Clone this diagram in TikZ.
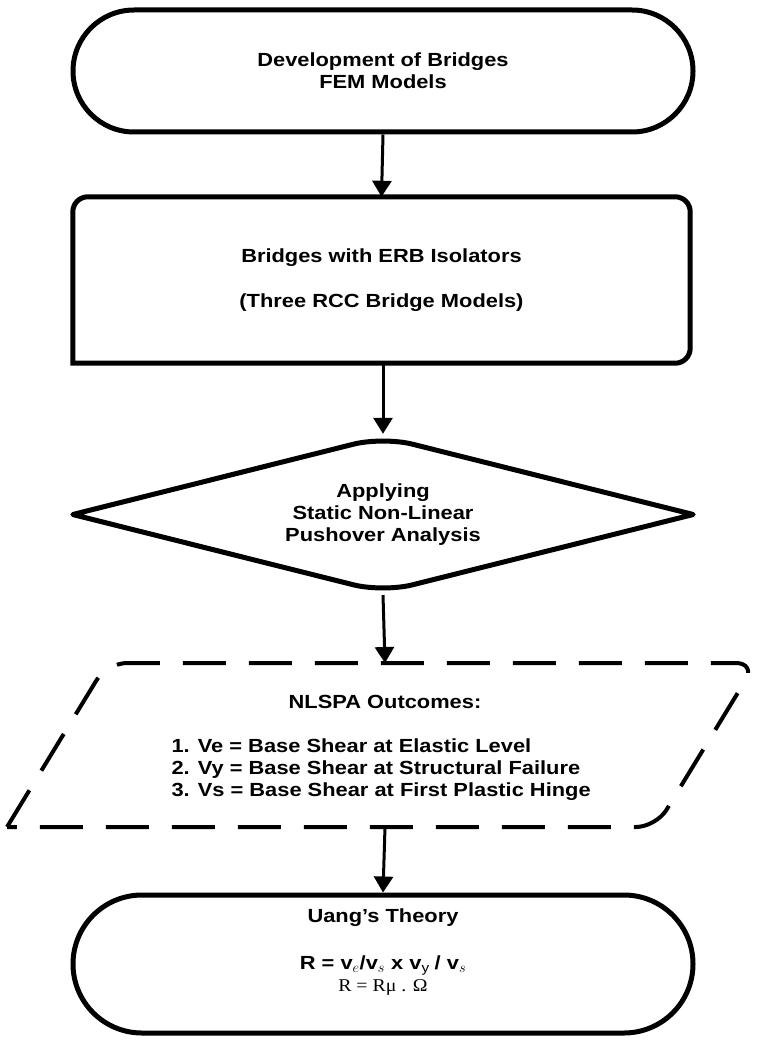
\documentclass[tikz,border=0pt]{standalone}
\usepackage{fontspec}
\setmainfont{Liberation Sans}[FakeStretch=1.15]
\newfontfamily\eqfont{Liberation Serif}[FakeStretch=1.1]
\usetikzlibrary{arrows.meta,shapes.geometric}

\begin{document}
\begin{tikzpicture}[x=1pt, y=-1pt,
  every node/.style={font=\fontsize{19}{22}\selectfont\bfseries, align=center},
  term/.style={draw, line width=5pt, rectangle, minimum width=620pt},
  flow/.style={line width=3pt, -{Triangle[width=19pt,length=16pt]}},
  dashbox/.style={line width=4pt, dash pattern=on 43pt off 23pt, rounded corners=20pt}]

  \useasboundingbox (0,0) rectangle (758,1046);

  \node[term, rounded corners=61pt, minimum height=122pt] (dev) at (383, 71) {Development of Bridges\\FEM Models};
  \node[minimum width=617pt, minimum height=166pt] (erb) at (381.5, 280) {Bridges with ERB Isolators\\[23pt](Three RCC Bridge Models)};
  \draw [line width=5pt, line cap=rect, rounded corners=15pt] (erb.south west) -- (erb.north west) -- (erb.north east) -- (erb.south east) -- (erb.south west);
  \node[diamond, aspect=4, minimum width=620pt, minimum height=155pt] (push) at (383, 514.5) {Applying\\Static Non-Linear\\Pushover Analysis};
  \draw [line width=5pt, line join=round] (push.west) [rounded corners=30pt] -- (push.north) [sharp corners] -- (push.east) [rounded corners=30pt] -- (push.south) [sharp corners] -- cycle;

  \node (nlspa) at (385, 702) {NLSPA Outcomes:};
  \node[align=left, anchor=west] (vals) at (168, 770) {1. Ve = Base Shear at Elastic Level\\2. Vy = Base Shear at Structural Failure\\3. Vs = Base Shear at First Plastic Hinge};
  \coordinate (outtop) at (385, 663);
  \coordinate (outbot) at (385, 827);
  \draw [dashbox] (7, 827) -- (107, 663) -- (756, 663) -- (656, 827) -- (7, 827);

  \node[term, rounded corners=69pt, minimum height=138pt] (uang) at (383, 964) {};
  \node (theory) at (383, 918) {Uang’s Theory};
  \node (rfac) at (383, 976) {R = v$_{e}$/v$_{s}$ x v$_{\mathrm{y}}$ / v$_{s}$\\{\eqfont\mdseries\fontsize{18}{22}\selectfont R = Rμ . Ω}};

  \draw [flow] (dev.south) to (erb.north);
  \draw [flow] (erb.south -| push.north) to ([yshift=3pt]push.north);
  \draw [flow] ([yshift=-3pt]push.south) to (outtop);
  \draw [flow] (outbot) to (uang.north);

\end{tikzpicture}
\end{document}
